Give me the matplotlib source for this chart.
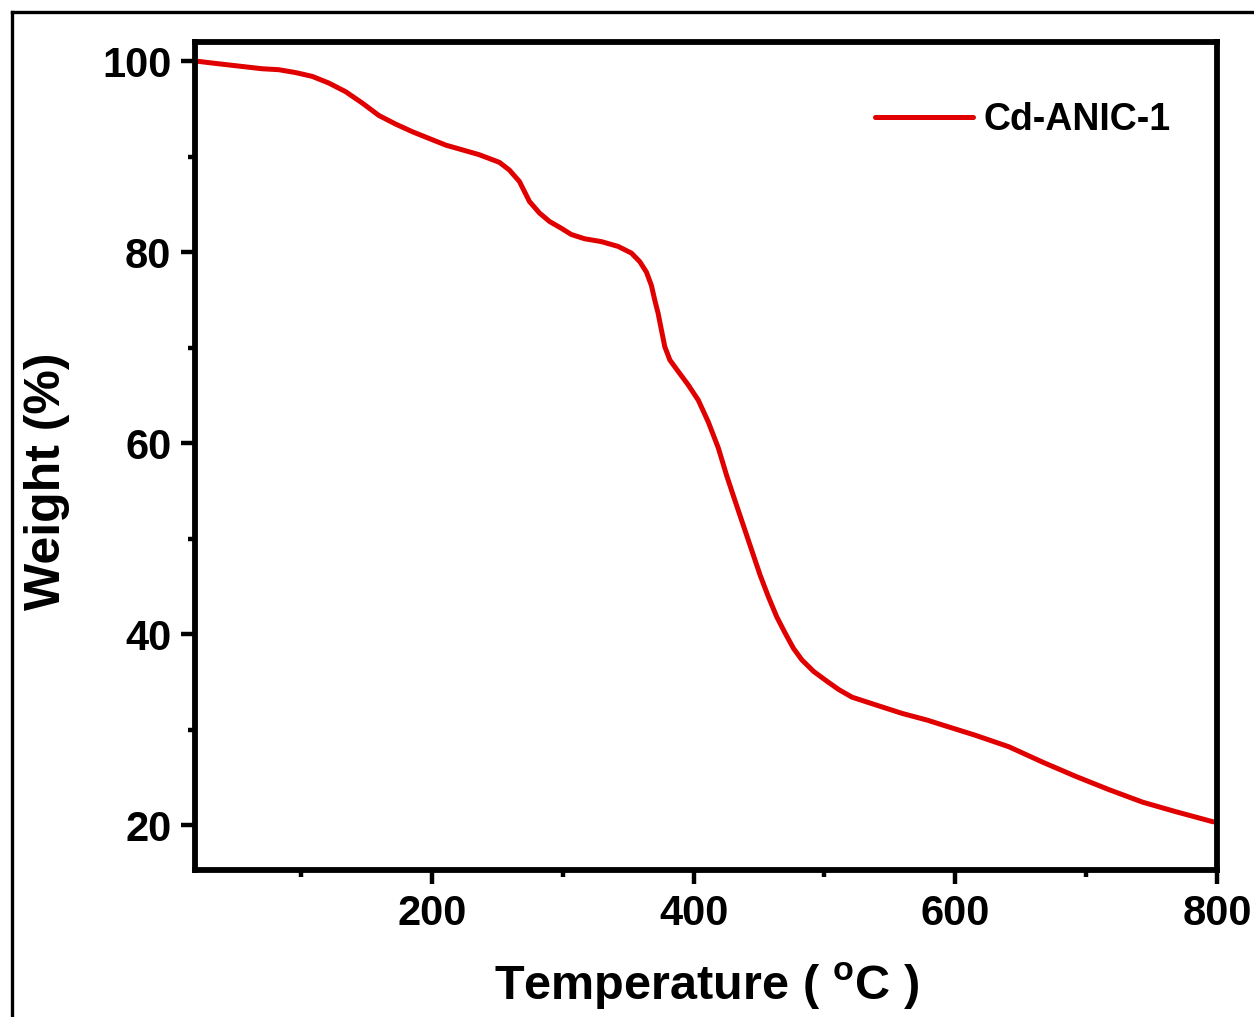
import numpy as np
import matplotlib
matplotlib.use("Agg")
import matplotlib.pyplot as plt
from matplotlib.lines import Line2D
from matplotlib.ticker import MultipleLocator

# TGA curve of Cd-ANIC-1 (temperature in degC, weight in %)
temperature = [20, 32.0, 44.7, 57.5, 70.3, 83.0, 95.8, 108.6, 121.3, 134.1,
               146.9, 159.6, 172.4, 185.2, 197.9, 210.7, 223.5, 236.2, 243.9, 251.6,
               259.2, 266.9, 274.6, 282.2, 290.0, 298.9, 306.5, 316.7, 329.5, 342.3,
               352.5, 358.9, 364.0, 367.8, 370.3, 372.9, 375.5, 378.0, 381.9, 388.3,
               395.9, 403.6, 411.3, 418.9, 425.3, 431.6, 438.0, 444.4, 450.8, 457.2,
               463.6, 470.0, 476.4, 482.8, 491.7, 500.6, 510.9, 521.1, 539.0, 559.4,
               578.5, 590.0, 615.6, 641.1, 666.7, 692.2, 717.8, 743.3, 768.8, 797.0]
weight = [100.0, 99.8, 99.6, 99.4, 99.2, 99.1, 98.8, 98.4, 97.7, 96.8,
          95.6, 94.3, 93.4, 92.6, 91.9, 91.2, 90.7, 90.2, 89.8, 89.4,
          88.6, 87.4, 85.3, 84.1, 83.2, 82.5, 81.85, 81.4, 81.1, 80.6,
          79.9, 79.0, 77.9, 76.5, 75.0, 73.6, 71.8, 70.1, 68.7, 67.5,
          66.1, 64.5, 62.2, 59.5, 56.6, 54.0, 51.4, 48.8, 46.2, 43.9,
          41.8, 40.1, 38.5, 37.3, 36.1, 35.2, 34.2, 33.4, 32.6, 31.7,
          31.0, 30.5, 29.4, 28.2, 26.6, 25.1, 23.7, 22.4, 21.4, 20.35]
sample = "Cd-ANIC-1"

plt.rcParams['font.family'] = ['Liberation Sans', 'DejaVu Sans']
plt.rcParams['font.weight'] = 'bold'
plt.rcParams['mathtext.fontset'] = 'custom'
plt.rcParams['mathtext.rm'] = 'Liberation Sans:bold'
plt.rcParams['mathtext.bf'] = 'Liberation Sans:bold'

fig = plt.figure(figsize=(12.54, 10.17), dpi=100)
ax = fig.add_axes([0.1555, 0.1445, 0.815, 0.8142])

ax.plot(temperature, weight, color='#e00000', lw=3.6, label=sample,
        solid_joinstyle='round', solid_capstyle='round')

ax.set_xlim(19, 800)
ax.set_ylim(15.3, 102)
ax.xaxis.set_major_locator(MultipleLocator(200))
ax.xaxis.set_minor_locator(MultipleLocator(100))
ax.yaxis.set_major_locator(MultipleLocator(20))
ax.yaxis.set_minor_locator(MultipleLocator(10))

for s in ax.spines.values():
    s.set_linewidth(4.2)
ax.tick_params(which='major', direction='out', length=10, width=3.2,
               labelsize=30, pad=7, top=False, right=False)
ax.tick_params(which='minor', direction='out', length=5, width=3.2,
               top=False, right=False)
for lab in ax.get_xticklabels() + ax.get_yticklabels():
    lab.set_fontweight('bold')

ax.set_xlabel(r'Temperature ( $^{\rm o}$C )', fontsize=35, fontweight='bold')
ax.set_ylabel('Weight (%)', fontsize=36, fontweight='bold')
ax.xaxis.set_label_coords(0.5, -0.11)
ax.yaxis.set_label_coords(-0.122, 0.47)

leg = ax.legend(loc='upper right', bbox_to_anchor=(0.988, 0.968), frameon=False,
                fontsize=27, handlelength=2.6, handletextpad=0.3)
for t in leg.get_texts():
    t.set_fontweight('bold')

# outer frame (top and left edges)
fig.add_artist(Line2D([0.0092, 1.0], [1 - 11.5 / 1017, 1 - 11.5 / 1017],
                      transform=fig.transFigure, color='black', lw=2.4))
fig.add_artist(Line2D([0.0092, 0.0092], [0.0, 1 - 11.5 / 1017],
                      transform=fig.transFigure, color='black', lw=2.4))

fig.savefig("out.png", dpi=100)
